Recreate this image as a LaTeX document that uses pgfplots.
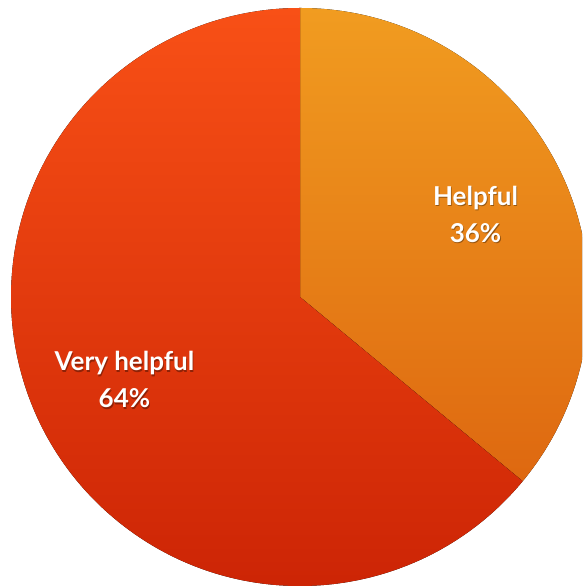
\documentclass[border=0pt]{standalone}
\usepackage{fontspec}
\setmainfont{Lato}
\usepackage{pgfplots}
\usepackage{pgfplotstable}
\pgfplotsset{compat=1.18}
\definecolor{helpTop}{RGB}{241,156,32}
\definecolor{helpBot}{RGB}{222,104,16}
\definecolor{veryTop}{RGB}{248,80,22}
\definecolor{veryBot}{RGB}{202,34,4}
\pgfplotstableread{
label value
Helpful 36
{Very helpful} 64
}\piedata
\pgfplotstablegetelem{0}{value}\of\piedata \let\va\pgfplotsretval
\pgfplotstablegetelem{1}{value}\of\piedata \let\vb\pgfplotsretval
\pgfmathsetmacro\ea{90-3.6*\va}
\pgfmathsetmacro\eb{\ea-3.6*\vb}
\pgfmathsetmacro\ma{90-1.8*\va}
\pgfmathsetmacro\mb{\ea-1.8*\vb}
\tikzset{pielbl/.style={align=center, font=\bfseries\fontsize{26}{37}\selectfont}}
\begin{document}
\begin{tikzpicture}
\path[use as bounding box, clip] (0,0) rectangle (582pt,588pt);
\begin{axis}[
  at={(0,0)}, anchor=south west,
  scale only axis, width=582pt, height=588pt,
  xmin=0, xmax=582, ymin=0, ymax=588,
  hide axis, clip=false,
]
\addplot[draw=none] coordinates {(0,0) (582,588)};
\fill[top color=helpTop, bottom color=helpBot]
  (axis cs:300,291) -- ++(90:289pt) arc[start angle=90, end angle=\ea, radius=289pt] -- cycle;
\fill[top color=veryTop, bottom color=veryBot]
  (axis cs:300,291) -- ++(\ea:289pt) arc[start angle=\ea, end angle=\eb, radius=289pt] -- cycle;
\node[pielbl, text=black, opacity=0.35, xshift=0.8pt, yshift=-1.5pt] at ([shift={(\ma:194pt)}]axis cs:300,291) {Helpful\\\va\%};
\node[pielbl, text=white] at ([shift={(\ma:194pt)}]axis cs:300,291) {Helpful\\\va\%};
\node[pielbl, text=black, opacity=0.35, xshift=0.8pt, yshift=-1.5pt] at ([shift={(\mb:194pt)}]axis cs:300,291) {Very helpful\\\vb\%};
\node[pielbl, text=white] at ([shift={(\mb:194pt)}]axis cs:300,291) {Very helpful\\\vb\%};
\end{axis}
\end{tikzpicture}
\end{document}
